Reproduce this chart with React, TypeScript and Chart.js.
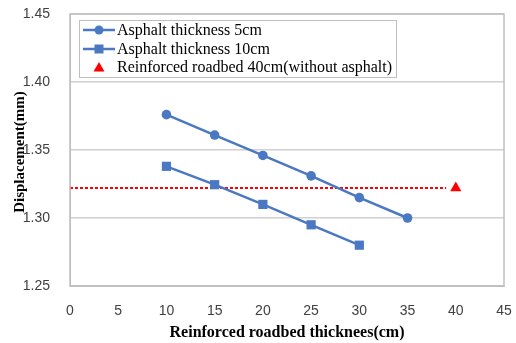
import React, { useEffect, useRef } from "react";
import { Chart, registerables } from "chart.js";

Chart.register(...registerables);

const thicknessA = [10, 15, 20, 25, 30, 35];
const displacementA = [1.376, 1.361, 1.346, 1.331, 1.315, 1.3];
const thicknessB = [10, 15, 20, 25, 30];
const displacementB = [1.338, 1.3245, 1.31, 1.295, 1.28];
const reinforcedX = [40];
const reinforcedY = [1.322];
const refLineX = [0, 39];
const seriesLabels = [
  "Asphalt thickness 5cm",
  "Asphalt thickness 10cm",
  "Reinforced roadbed 40cm(without asphalt)",
];
const xTitle = "Reinforced roadbed thicknees(cm)";
const yTitle = "Displacement(mm)";

const BLUE = "#4a78c2";
const RED = "#ff0000";

const legendPlugin = {
  id: "boxLegend",
  afterDraw(chart: any) {
    const ctx = chart.ctx;
    const ca = chart.chartArea;
    const x0 = ca.left + 9;
    const y0 = ca.top + 6;
    const w = 317;
    const h = 57;
    ctx.save();
    ctx.fillStyle = "#ffffff";
    ctx.fillRect(x0, y0, w, h);
    ctx.strokeStyle = "#bfbfbf";
    ctx.lineWidth = 1;
    ctx.strokeRect(x0 + 0.5, y0 + 0.5, w, h);
    const rows = [y0 + 10, y0 + 29, y0 + 47];
    ctx.font = "16px 'Liberation Serif'";
    ctx.textBaseline = "middle";
    ctx.fillStyle = "#000000";
    for (let i = 0; i < 3; i++) {
      const y = rows[i];
      if (i < 2) {
        ctx.strokeStyle = BLUE;
        ctx.lineWidth = 2.5;
        ctx.beginPath();
        ctx.moveTo(x0 + 4, y);
        ctx.lineTo(x0 + 36, y);
        ctx.stroke();
        ctx.fillStyle = BLUE;
        if (i === 0) {
          ctx.beginPath();
          ctx.arc(x0 + 20, y, 4.5, 0, Math.PI * 2);
          ctx.fill();
        } else {
          ctx.fillRect(x0 + 15.5, y - 4.5, 9, 9);
        }
      } else {
        ctx.fillStyle = RED;
        ctx.beginPath();
        ctx.moveTo(x0 + 20, y - 5);
        ctx.lineTo(x0 + 25.5, y + 4.5);
        ctx.lineTo(x0 + 14.5, y + 4.5);
        ctx.closePath();
        ctx.fill();
      }
      ctx.fillStyle = "#000000";
      ctx.textAlign = "left";
      ctx.fillText(seriesLabels[i], x0 + 38, y + 1);
    }
    // axis titles
    ctx.font = "bold 16px 'Liberation Serif'";
    ctx.fillStyle = "#000000";
    ctx.textAlign = "center";
    ctx.fillText(xTitle, (ca.left + ca.right) / 2, 333);
    ctx.save();
    ctx.font = "bold 15px 'Liberation Serif'";
    ctx.translate(20, 152);
    ctx.rotate(-Math.PI / 2);
    ctx.fillText(yTitle, 0, 0);
    ctx.restore();
    ctx.restore();
  },
};

export default function App() {
  const ref = useRef<HTMLCanvasElement | null>(null);
  useEffect(() => {
    document.body.style.margin = "0";
    const chart = new Chart(ref.current as HTMLCanvasElement, {
      type: "scatter",
      data: {
        datasets: [
          {
            label: seriesLabels[0],
            data: thicknessA.map((x, i) => ({ x, y: displacementA[i] })),
            showLine: true,
            borderColor: BLUE,
            backgroundColor: BLUE,
            borderWidth: 2.5,
            pointStyle: "circle",
            pointRadius: 4.8,
            pointBorderWidth: 0,
          },
          {
            label: seriesLabels[1],
            data: thicknessB.map((x, i) => ({ x, y: displacementB[i] })),
            showLine: true,
            borderColor: BLUE,
            backgroundColor: BLUE,
            borderWidth: 2.5,
            pointStyle: "rect",
            pointRadius: 6.5,
            pointBorderWidth: 0,
          },
          {
            label: seriesLabels[2],
            data: reinforcedX.map((x, i) => ({ x, y: reinforcedY[i] })),
            backgroundColor: RED,
            borderColor: RED,
            pointStyle: "triangle",
            pointRadius: 6.5,
            pointBorderWidth: 0,
          },
          {
            label: "ref",
            data: refLineX.map((x) => ({ x, y: reinforcedY[0] })),
            showLine: true,
            borderColor: RED,
            borderWidth: 2,
            borderDash: [3, 2],
            pointRadius: 0,
          },
        ],
      },
      options: {
        animation: false,
        responsive: false,
        layout: { padding: { top: 14, right: 12, left: 0, bottom: 0 } },
        plugins: { legend: { display: false }, tooltip: { enabled: false } },
        scales: {
          x: {
            type: "linear",
            min: 0,
            max: 45,
            ticks: {
              stepSize: 5,
              padding: 17,
              color: "#404040",
              font: { family: "'Liberation Sans'", size: 14 },
            },
            grid: { display: false, drawTicks: false },
            border: { color: "#bfbfbf", width: 1 },
            afterFit(scale: any) {
              scale.height = 57;
              scale.paddingLeft = 0;
              scale.paddingRight = 0;
            },
          },
          y: {
            min: 1.25,
            max: 1.45,
            ticks: {
              stepSize: 0.05,
              padding: 20,
              color: "#404040",
              font: { family: "'Liberation Sans'", size: 14 },
              callback: (v: any) => Number(v).toFixed(2),
            },
            grid: { color: "#d0d0d0", lineWidth: 1.5, drawTicks: false },
            border: { color: "#bfbfbf", width: 1 },
            afterFit(scale: any) {
              scale.width = 70;
              scale.paddingTop = 0;
              scale.paddingBottom = 0;
            },
          },
        },
      },
      plugins: [
        legendPlugin,
        {
          id: "frame",
          afterDatasetsDraw(chart: any) {
            const { ctx, chartArea: ca } = chart;
            ctx.save();
            ctx.strokeStyle = "#bfbfbf";
            ctx.lineWidth = 1.5;
            ctx.strokeRect(ca.left, ca.top, ca.right - ca.left, ca.bottom - ca.top);
            ctx.restore();
          },
        },
      ],
    } as any);
    return () => chart.destroy();
  }, []);
  return (
    <div style={{ position: "absolute", left: 0, top: 0, width: 516, height: 343 }}>
      <canvas ref={ref} width={516} height={343} />
    </div>
  );
}
